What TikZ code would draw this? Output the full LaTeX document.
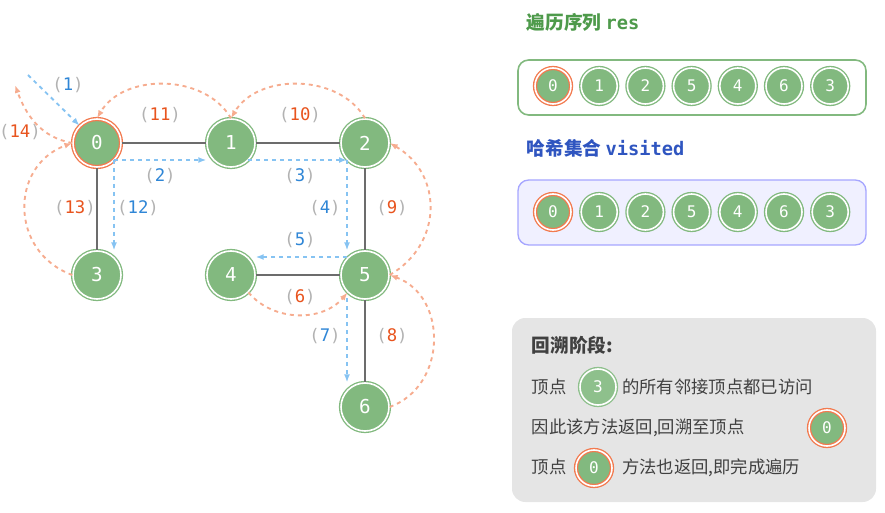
\documentclass[tikz,border=0pt]{standalone}
\usepackage{fontspec}
\setmainfont{Noto Sans CJK SC}
\newfontfamily\mono{DejaVu Sans Mono}
\usetikzlibrary{arrows.meta}
\definecolor{vgreen}{HTML}{82B97F}
\definecolor{vorange}{HTML}{F27A4F}
\definecolor{pblue}{HTML}{86C3F2}
\definecolor{porange}{HTML}{F6AC8F}
\definecolor{tblue}{HTML}{2F86D6}
\definecolor{torange}{HTML}{E8541E}
\definecolor{tgreen}{HTML}{4E9A4B}
\definecolor{ttitle}{HTML}{2F55C0}
\newcommand{\blbl}[1]{{\mono\textcolor{gray!60}{(}\textcolor{tblue}{#1}\textcolor{gray!60}{)}}}
\newcommand{\olbl}[1]{{\mono\textcolor{gray!60}{(}\textcolor{torange}{#1}\textcolor{gray!60}{)}}}
\tikzset{
  vert/.style={circle, minimum size=36pt, inner sep=0pt, fill=vgreen, draw=vgreen,
    double=white, double distance=1.2pt, line width=1pt, text=white, font=\mono\Large},
  vcur/.style={vert, draw=vorange},
  small/.style={vert, minimum size=27pt, font=\mono\large},
  scur/.style={small, draw=vorange},
  edge/.style={gray!85!black, line width=1.6pt},
  fwd/.style={pblue, dashed, line width=1.4pt, -{Latex[length=6pt]}},
  back/.style={porange, dashed, line width=1.4pt, -{Latex[length=6pt]}},
}
\begin{document}
\begin{tikzpicture}[x=0.75pt, y=-0.75pt, font=\fontsize{13}{15}\selectfont]
  \useasboundingbox (0,0) rectangle (885,513);
  % graph edges
  \node[vcur] (v0) at (97,143) {0};
  \node[vert] (v1) at (231,143) {1};
  \node[vert] (v2) at (365,143) {2};
  \node[vert] (v3) at (97,275) {3};
  \node[vert] (v4) at (231,275) {4};
  \node[vert] (v5) at (365,275) {5};
  \node[vert] (v6) at (365,407) {6};
  \draw[edge] (v0) -- (v1);
  \draw[edge] (v1) -- (v2);
  \draw[edge] (v0) -- (v3);
  \draw[edge] (v2) -- (v5);
  \draw[edge] (v4) -- (v5);
  \draw[edge] (v5) -- (v6);
  % forward steps
  \coordinate (s1) at (28,75);
  \coordinate (a0) at (114,160);
  \coordinate (a1) at (248,160);
  \coordinate (c2) at (347,160);
  \coordinate (c5) at (347,257);
  \coordinate (d5) at (347,298);
  \draw[fwd] (s1) -- (v0.north west);
  \draw[fwd] (a0) -- (a0 -| v1.west);
  \draw[fwd] (a1) -- (c2);
  \draw[fwd] (c2) -- (c5 |- v5.north);
  \draw[fwd] (c5) -- (c5 -| v4.east);
  \draw[fwd] (d5) -- (d5 |- v6.north);
  \draw[fwd] (a0) -- (a0 |- v3.north);
  % backtracking steps
  \coordinate (e0) at (15,85);
  \draw[back] (v4.south east) to[out=-50, in=-130] (v5.south west);
  \draw[back] (v6.east) to[out=20, in=-20, looseness=1.2] (v5.east);
  \draw[back] (v5.east) to[out=30, in=-30, looseness=1.2] (v2.east);
  \draw[back] (v2.north) to[out=120, in=60] (v1.north);
  \draw[back] (v1.north) to[out=120, in=60] (v0.north);
  \draw[back] (v3.west) to[out=160, in=200, looseness=1.3] (v0.west);
  \draw[back] (v0.west) to[out=170, in=-70] (e0);
  % step labels
  \node at (68,85) {\blbl{1}};
  \node at (160,176) {\blbl{2}};
  \node at (300,176) {\blbl{3}};
  \node at (325,208) {\blbl{4}};
  \node at (300,240) {\blbl{5}};
  \node at (300,297) {\olbl{6}};
  \node at (325,336) {\blbl{7}};
  \node at (392,336) {\olbl{8}};
  \node at (392,208) {\olbl{9}};
  \node at (300,115) {\olbl{10}};
  \node at (160,115) {\olbl{11}};
  \node at (138,208) {\blbl{12}};
  \node at (75,208) {\olbl{13}};
  \node at (20,132) {\olbl{14}};
  % result sequence
  \node[anchor=west, text=tgreen, font=\fontsize{14}{16}\selectfont\bfseries] (tres) at (522,22) {遍历序列 {\mono res}};
  \draw[vgreen, line width=1.2pt, rounded corners=8pt] (518,60) rectangle (866,115);
  \node[anchor=west, text=ttitle, font=\fontsize{14}{16}\selectfont\bfseries] (tvis) at (522,148) {哈希集合 {\mono visited}};
  \draw[draw=blue!35, fill=blue!6, line width=1pt, rounded corners=8pt] (518,180) rectangle (866,245);
  \foreach \v [count=\i from 0] in {0,1,2,5,4,6,3} {
    \ifnum\i=0
      \node[scur] (r\i) at (553+46.2*\i,86) {\v};
      \node[scur] (h\i) at (553+46.2*\i,212) {\v};
    \else
      \node[small] (r\i) at (553+46.2*\i,86) {\v};
      \node[small] (h\i) at (553+46.2*\i,212) {\v};
    \fi
  }
  % note
  \fill[gray!20, rounded corners=10pt] (512,318) rectangle (876,502);
  \node[anchor=west, font=\fontsize{14}{16}\selectfont\bfseries, text=black!75] (n0) at (527,345) {回溯阶段:};
  \node[anchor=west, text=black!75] (n1) at (527,387) {顶点 \hspace{36pt} 的所有邻接顶点都已访问};
  \node[small, fill=vgreen!90, draw=vgreen!90] (k3) at (598,387) {3};
  \node[anchor=west, text=black!75] (n2) at (527,428) {因此该方法返回,回溯至顶点};
  \node[scur] (k0) at (827,428) {0};
  \node[anchor=west, text=black!75] (n3) at (527,468) {顶点 \hspace{36pt} 方法也返回,即完成遍历};
  \node[scur] (k1) at (594,468) {0};
\end{tikzpicture}
\end{document}
